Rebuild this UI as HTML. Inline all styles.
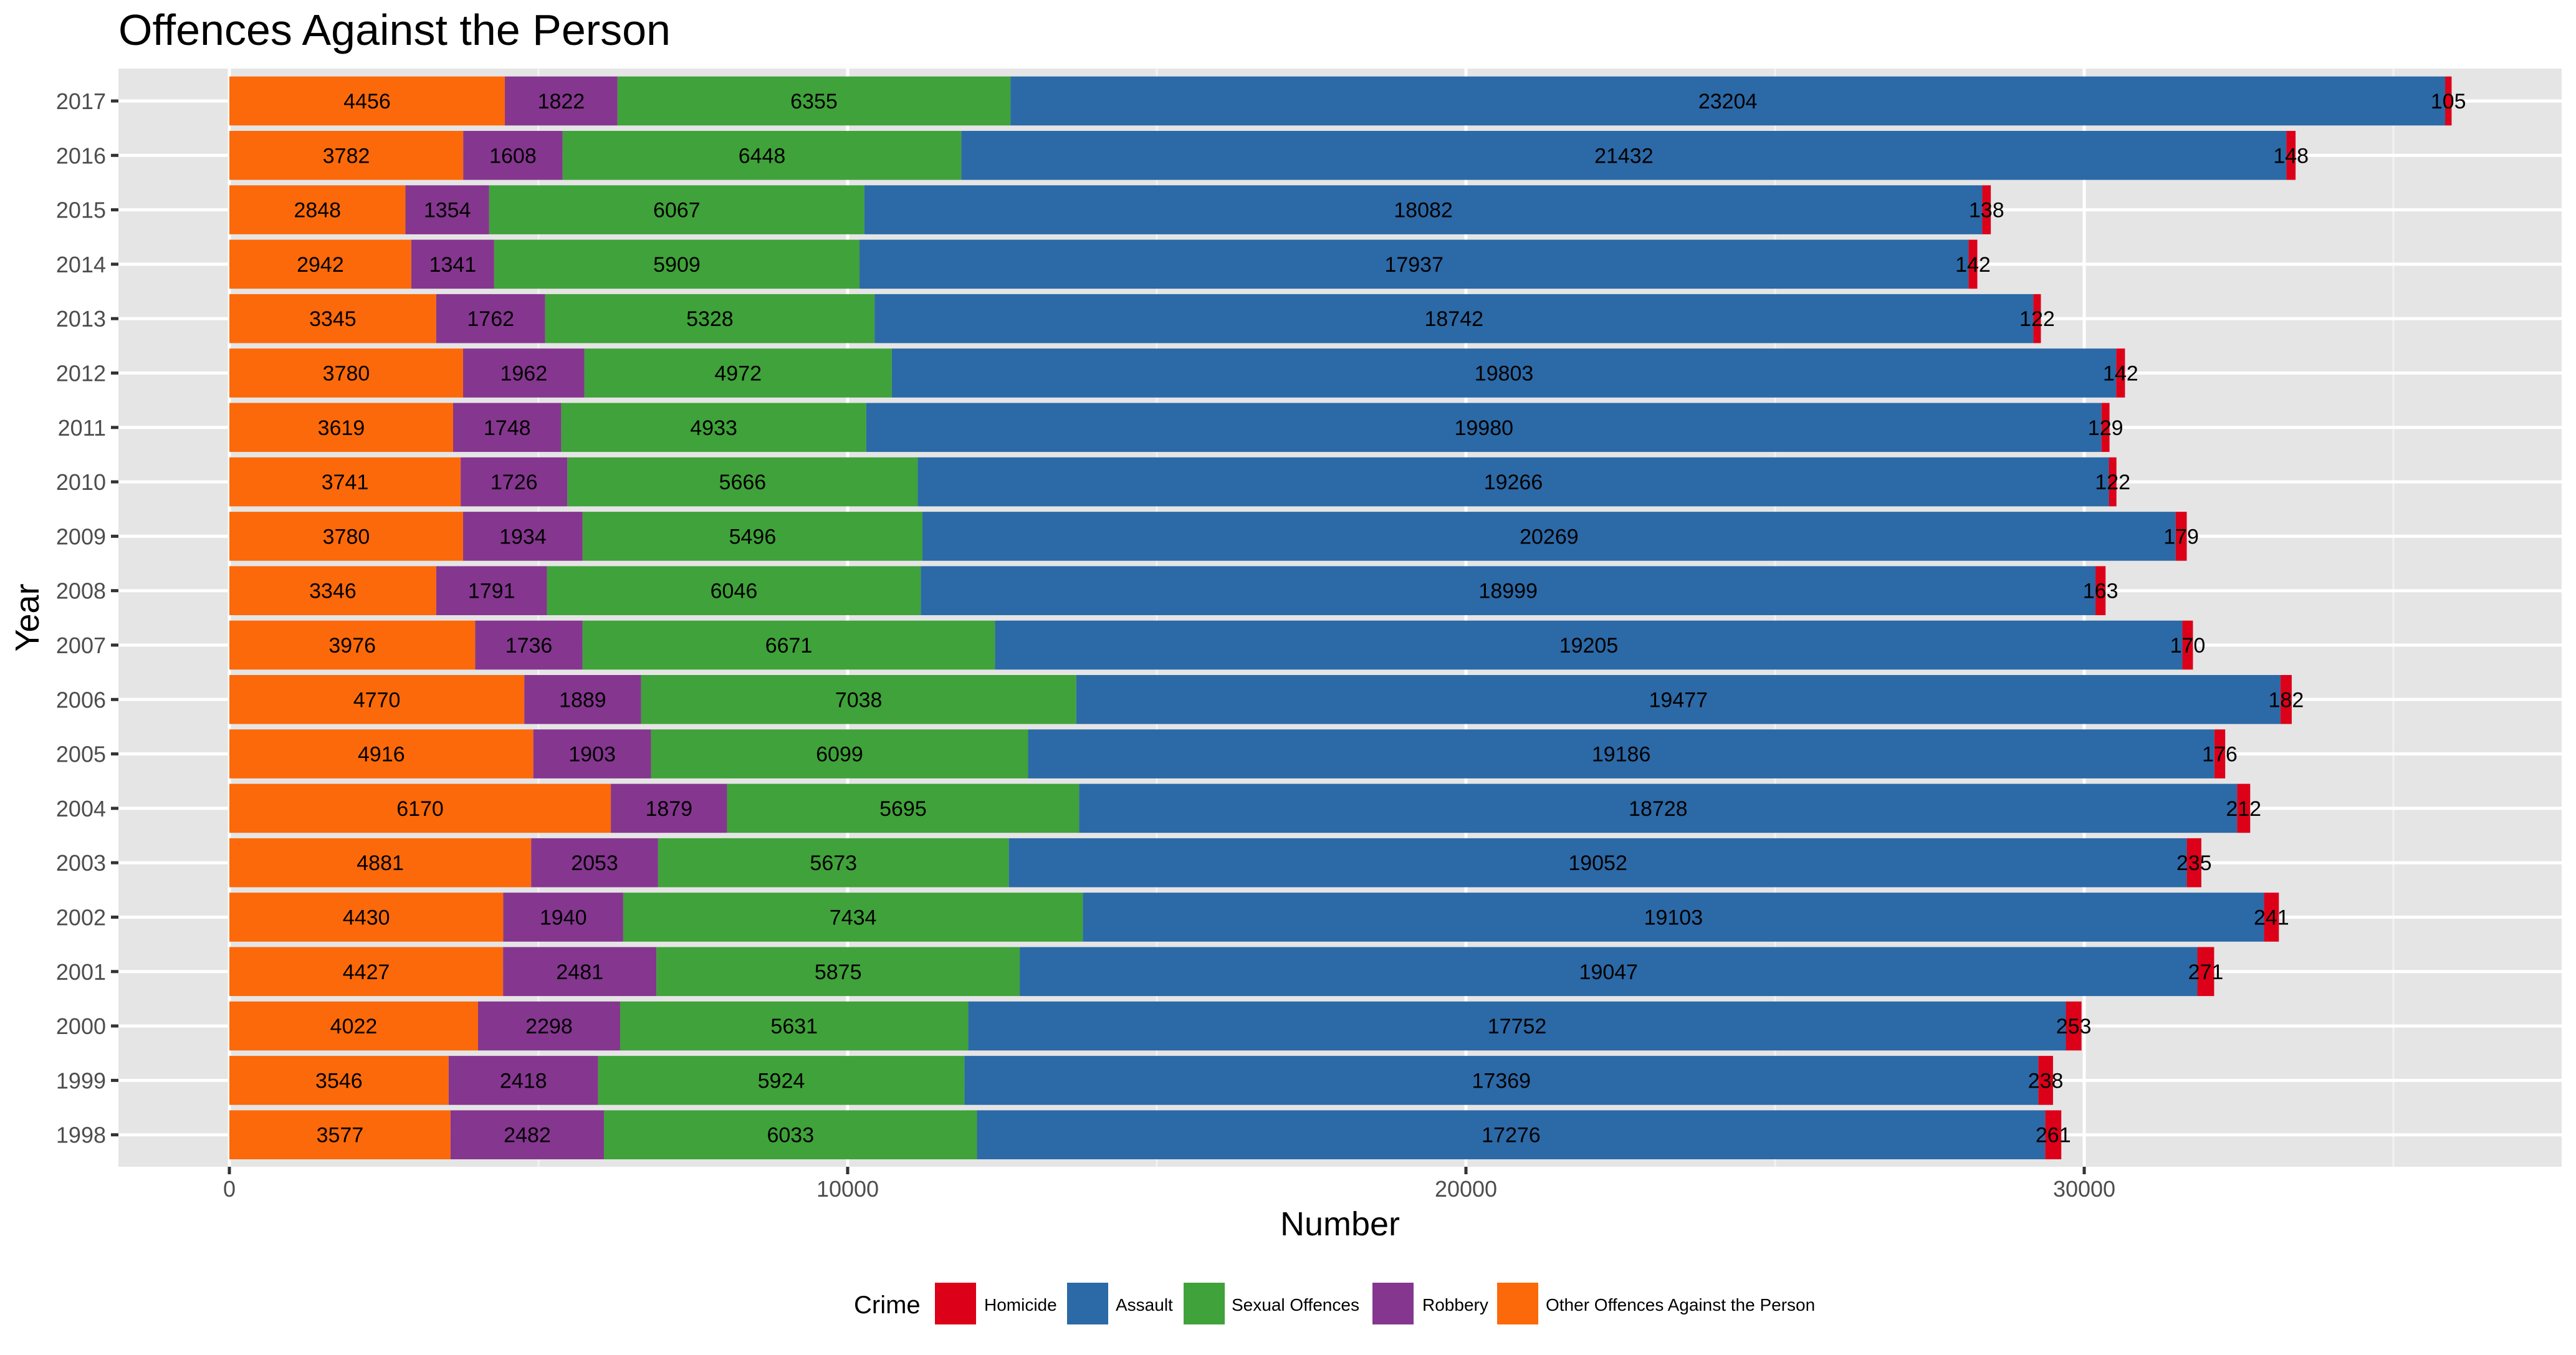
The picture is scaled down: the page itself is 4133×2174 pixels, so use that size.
<!DOCTYPE html>
<html><head><meta charset="utf-8"><title>Offences Against the Person</title>
<style>html,body{margin:0;padding:0;background:#fff}svg{display:block;font-family:"Liberation Sans",Arial,sans-serif}</style>
</head><body>
<svg id="chart" width="4133" height="2174" viewBox="0 0 4133 2174" xmlns="http://www.w3.org/2000/svg">
<rect x="0" y="0" width="4133" height="2174" fill="#fff"/>
<text x="190" y="72" font-size="70" fill="#000">Offences Against the Person</text>
<rect x="190" y="110" width="3920" height="1762" fill="#e5e5e5"/>
<g id="grid"></g>
<g id="bars"></g>
<g id="labels"></g>
<g id="yaxis"></g>
<g id="xaxis"></g>
<text x="2150" y="1982" font-size="54" text-anchor="middle" fill="#000">Number</text>
<text transform="translate(62,991) rotate(-90)" font-size="54" text-anchor="middle" fill="#000">Year</text>
<g id="legend">
<text x="1370" y="2107" font-size="40" fill="#000">Crime</text>
</g>
</svg>
<script>
const years = [2017,2016,2015,2014,2013,2012,2011,2010,2009,2008,2007,2006,2005,2004,2003,2002,2001,2000,1999,1998];
const otherOffences = [4456,3782,2848,2942,3345,3780,3619,3741,3780,3346,3976,4770,4916,6170,4881,4430,4427,4022,3546,3577];
const robbery = [1822,1608,1354,1341,1762,1962,1748,1726,1934,1791,1736,1889,1903,1879,2053,1940,2481,2298,2418,2482];
const sexualOffences = [6355,6448,6067,5909,5328,4972,4933,5666,5496,6046,6671,7038,6099,5695,5673,7434,5875,5631,5924,6033];
const assault = [23204,21432,18082,17937,18742,19803,19980,19266,20269,18999,19205,19477,19186,18728,19052,19103,19047,17752,17369,17276];
const homicide = [105,148,138,142,122,142,129,122,179,163,170,182,176,212,235,241,271,253,238,261];
const xTicks = [0,10000,20000,30000];
const xMinor = [5000,15000,25000,35000];
const seriesNames = ["Other Offences Against the Person","Robbery","Sexual Offences","Assault","Homicide"];
const legendOrder = ["Homicide","Assault","Sexual Offences","Robbery","Other Offences Against the Person"];

const NS = "http://www.w3.org/2000/svg";
const colors = {"Homicide":"#dc0019","Assault":"#2c69a7","Sexual Offences":"#40a23a","Robbery":"#85368f","Other Offences Against the Person":"#fc690a"};
const seriesData = [otherOffences, robbery, sexualOffences, assault, homicide];
const PX0 = 190, PX1 = 4110, PY0 = 110, PY1 = 1872;
const x = v => 368 + v * 0.0992;
const yc = i => 162 + i * 87.3;
const barH = 78.6;
function mk(tag, attrs, parent){const e=document.createElementNS(NS,tag);for(const k in attrs)e.setAttribute(k,attrs[k]);parent.appendChild(e);return e;}
const grid=document.getElementById('grid'), bars=document.getElementById('bars'), labels=document.getElementById('labels');
const yaxis=document.getElementById('yaxis'), xaxis=document.getElementById('xaxis'), legend=document.getElementById('legend');

xMinor.forEach(v=>{ if(x(v)<PX1){const l=mk('line',{x1:x(v),x2:x(v),y1:PY0,y2:PY1,stroke:'#f2f2f2','stroke-width':3},grid);

}});
xTicks.forEach(v=>{const l=mk('line',{x1:x(v),x2:x(v),y1:PY0,y2:PY1,stroke:'#fff','stroke-width':5},grid);


const t=mk('line',{x1:x(v),x2:x(v),y1:PY1,y2:PY1+12,stroke:'#333','stroke-width':5},xaxis);


const tx=mk('text',{x:x(v),y:PY1+48,'font-size':36,fill:'#4d4d4d','text-anchor':'middle'},xaxis);tx.textContent=v;

});

years.forEach((yr,i)=>{
  const c=yc(i);
  const g=mk('line',{x1:PX0,x2:PX1,y1:c,y2:c,stroke:'#fff','stroke-width':5},grid);
  
  
  const tk=mk('line',{x1:PX0-12,x2:PX0,y1:c,y2:c,stroke:'#333','stroke-width':5},yaxis);
  
  
  const tl=mk('text',{x:PX0-20,y:c+13,'font-size':36,fill:'#4d4d4d','text-anchor':'end'},yaxis);tl.textContent=yr;
  
  
  let cum=0;
  seriesData.forEach((arr,s)=>{
    const v=arr[i];
    const r=mk('rect',{x:x(cum),y:c-barH/2,width:x(cum+v)-x(cum),height:barH,fill:colors[seriesNames[s]]},bars);
    
    
    const t=mk('text',{x:x(cum+v/2),y:c+12,'font-size':34,fill:'#000','text-anchor':'middle'},labels);t.textContent=v;
    
    
    cum+=v;
  });
});

const keyX=[1500,1712,1899,2202,2402], txtX=[1579,1790,1976,2282,2480];
legendOrder.forEach((n,k)=>{
  const r=mk('rect',{x:keyX[k],y:2058,width:66,height:67,fill:colors[n]},legend);
  
  
  const t=mk('text',{x:txtX[k],y:2103,'font-size':28,fill:'#000'},legend);t.textContent=n;
  
  
});
</script>
</body></html>
